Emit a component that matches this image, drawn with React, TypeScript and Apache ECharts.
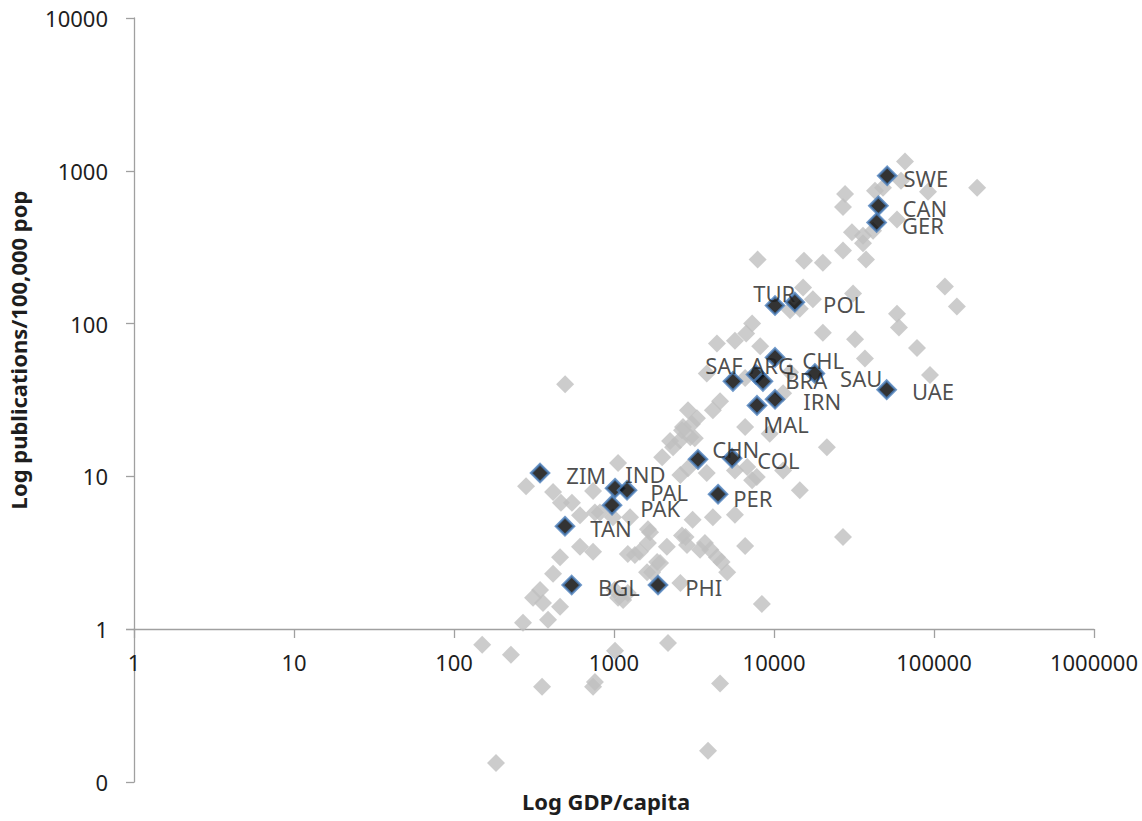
import { useEffect, useRef } from "react";
import * as echarts from "echarts";

// Labelled countries: GDP per capita and publications per 100,000 population
const countryCodes = ["SWE", "CAN", "GER", "TUR", "POL", "SAF", "ARG", "BRA", "CHL", "SAU", "IRN", "MAL", "UAE", "CHN", "COL", "PER", "ZIM", "IND", "PAL", "PAK", "TAN", "BGL", "PHI"];
const countryGdp = [51000, 44900, 43800, 10150, 13500, 5540, 7720, 8530, 10150, 18000, 10150, 7830, 50600, 3350, 5470, 4470, 345, 1015, 1206, 972, 494, 544, 1884];
const countryPubs = [927, 590, 459, 131, 138, 41.8, 46.4, 41.8, 60, 47.1, 31.9, 29.1, 36.9, 12.9, 13.1, 7.63, 10.5, 8.35, 8.1, 6.47, 4.71, 1.94, 1.94];

// All other countries
const otherGdp = [
  65900, 62200, 91700, 186000, 48000, 42800, 27800, 27000, 58700, 30700,
  36000, 36000, 41600, 27000, 37600, 20200, 15400, 7900, 117000, 139000,
  58700, 60400, 31200, 15200, 17500, 14500, 12600, 32100, 37000, 78300,
  94400, 20200, 7300, 6700, 5700, 4400, 8200, 3800, 6600, 12600,
  11400, 4600, 4150, 3300, 2900, 2700, 3000, 6600, 9400, 21400,
  3800, 6800, 7800, 14500, 495, 2240, 2660, 2000, 2340, 2600,
  2900, 5700, 7300, 11400, 5700, 4150, 3100, 2800, 3700, 6600,
  4400, 27000, 3200, 1680, 1630, 1350, 1860, 1730, 2660, 2860,
  3450, 4000, 4700, 5100, 2600, 1010, 1140, 282, 416, 466,
  546, 740, 1060, 760, 985, 1260, 1630, 1450, 613, 460,
  740, 1220, 2140, 1940, 1610, 416, 345, 312, 360, 460,
  270, 387, 1060, 1220, 817, 613, 3070, 2590, 150, 227,
  355, 740, 760, 1015, 2175, 4600, 3870, 183, 8400,
];
const otherPubs = [
  1150, 860, 730, 775, 775, 740, 705, 580, 480, 395,
  375, 335, 405, 300, 262, 250, 258, 262, 175, 129,
  116, 94, 157, 172, 144, 125, 122, 79, 59, 69,
  46, 87, 100, 86, 77, 74, 71, 47, 44, 48,
  35, 31, 27, 24, 27, 21, 18, 21, 19, 15.5,
  10.5, 11.5, 9.9, 8.1, 40, 17, 20, 13.3, 15.5, 10.2,
  11.3, 10.9, 9.4, 10.9, 5.6, 5.4, 5.2, 4.0, 3.65, 3.5,
  2.95, 4.0, 17.7, 4.3, 3.65, 3.05, 2.75, 2.35, 4.1, 3.55,
  3.3, 3.3, 2.75, 2.35, 2.0, 1.8, 1.55, 8.6, 7.9, 6.7,
  6.7, 8.0, 12.2, 5.8, 5.4, 5.4, 4.5, 3.2, 3.45, 2.95,
  3.2, 3.1, 3.45, 2.7, 2.35, 2.3, 1.8, 1.6, 1.48, 1.4,
  1.1, 1.15, 1.6, 1.72, 5.8, 5.55, 22, 17.2, 0.79, 0.68,
  0.42, 0.42, 0.45, 0.72, 0.81, 0.44, 0.16, 0.133, 1.46,
];

// Per-label nudges so the codes sit clear of neighbouring markers
const labelOffsets: Record<string, [number, number]> = {
  SWE: [0, 2], CAN: [8, 2], GER: [9, 3], TUR: [-38, -13], POL: [12, 2],
  SAF: [-44, -16], ARG: [-22, -9], BRA: [6, -1], CHL: [11, 3], SAU: [9, 5],
  IRN: [12, 2], MAL: [-10, 19], UAE: [9, 1], CHN: [-2, -10], COL: [9, 2],
  PER: [-1, 4], ZIM: [10, 2], IND: [-6, -14], PAL: [7, 2], PAK: [12, 3],
  TAN: [9, 2], BGL: [10, 2], PHI: [11, 2],
};

const FONT = "'Noto Sans', 'Open Sans', sans-serif";
const AXIS_GREY = "#a0a0a0";
const TEXT = "#1e1e1e";

export default function App() {
  const ref = useRef<HTMLDivElement>(null);

  useEffect(() => {
    if (!ref.current) return;
    const chart = echarts.init(ref.current, undefined, { renderer: "svg" });

    const others = otherGdp.map((g, i) => [g, otherPubs[i]]);
    const upperOthers = others.filter((p) => p[1] >= 1);
    const lowerOthers = others.filter((p) => p[1] < 1);
    const named = countryCodes.map((code, i) => ({
      value: [countryGdp[i], countryPubs[i]],
      name: code,
      label: { offset: labelOffsets[code] || [0, 0] },
    }));

    const xBase = {
      type: "log" as const,
      logBase: 10,
      min: 1,
      max: 1000000,
      splitLine: { show: false },
    };

    chart.setOption({
      animation: false,
      backgroundColor: "#ffffff",
      grid: [
        { left: 134, top: 18, width: 960, height: 611 },
        { left: 134, top: 629, width: 960, height: 153 },
      ],
      xAxis: [
        {
          ...xBase,
          gridIndex: 0,
          axisLine: { show: true, lineStyle: { color: AXIS_GREY, width: 1.3 } },
          axisTick: { show: true, length: 9, lineStyle: { color: AXIS_GREY, width: 1.3 } },
          axisLabel: {
            margin: 22,
            color: TEXT,
            fontSize: 22,
            fontFamily: FONT,
            formatter: (v: number) => String(Math.round(v)),
          },
        },
        { ...xBase, gridIndex: 1, show: false },
      ],
      yAxis: [
        {
          type: "log",
          logBase: 10,
          gridIndex: 0,
          min: 1,
          max: 10000,
          splitLine: { show: false },
          axisLine: { show: true, lineStyle: { color: AXIS_GREY, width: 1.3 } },
          axisTick: { show: true, length: 8, lineStyle: { color: AXIS_GREY, width: 1.3 } },
          axisLabel: {
            margin: 26,
            color: TEXT,
            fontSize: 22,
            fontFamily: FONT,
            formatter: (v: number) => String(Math.round(v)),
          },
        },
        {
          type: "log",
          logBase: 10,
          gridIndex: 1,
          min: 0.1,
          max: 1,
          splitLine: { show: false },
          axisLine: { show: true, lineStyle: { color: AXIS_GREY, width: 1.3 } },
          axisTick: { show: true, length: 8, lineStyle: { color: AXIS_GREY, width: 1.3 } },
          axisLabel: {
            margin: 26,
            color: TEXT,
            fontSize: 22,
            fontFamily: FONT,
            formatter: (v: number) => (v < 0.5 ? "0" : ""),
          },
        },
      ],
      series: [
        {
          type: "scatter",
          xAxisIndex: 0,
          yAxisIndex: 0,
          clip: false,
          symbol: "diamond",
          symbolSize: 18,
          itemStyle: { color: "#bfbfbf" },
          data: upperOthers,
          z: 2,
        },
        {
          type: "scatter",
          xAxisIndex: 1,
          yAxisIndex: 1,
          clip: false,
          symbol: "diamond",
          symbolSize: 18,
          itemStyle: { color: "#bfbfbf" },
          data: lowerOthers,
          z: 2,
        },
        {
          type: "scatter",
          xAxisIndex: 0,
          yAxisIndex: 0,
          clip: false,
          symbol: "diamond",
          symbolSize: 18,
          itemStyle: { color: "#000000", borderColor: "#4a7ebb", borderWidth: 2.5 },
          label: {
            show: true,
            position: "right",
            distance: 6,
            formatter: "{b}",
            color: TEXT,
            fontSize: 22,
            fontFamily: FONT,
          },
          data: named,
          z: 3,
        },
      ],
      graphic: [
        {
          type: "text",
          x: 18,
          y: 350,
          rotation: Math.PI / 2,
          style: {
            text: "Log publications/100,000 pop",
            font: `bold 22px ${FONT}`,
            fill: TEXT,
            align: "center",
            verticalAlign: "middle",
          },
        },
        {
          type: "text",
          x: 606,
          y: 801,
          style: {
            text: "Log GDP/capita",
            font: `bold 22px ${FONT}`,
            fill: TEXT,
            align: "center",
            verticalAlign: "middle",
          },
        },
      ],
    });

    return () => chart.dispose();
  }, []);

  return (
    <div
      ref={ref}
      style={{ position: "absolute", left: 0, top: 0, width: 1142, height: 821, background: "#fff" }}
    />
  );
}
